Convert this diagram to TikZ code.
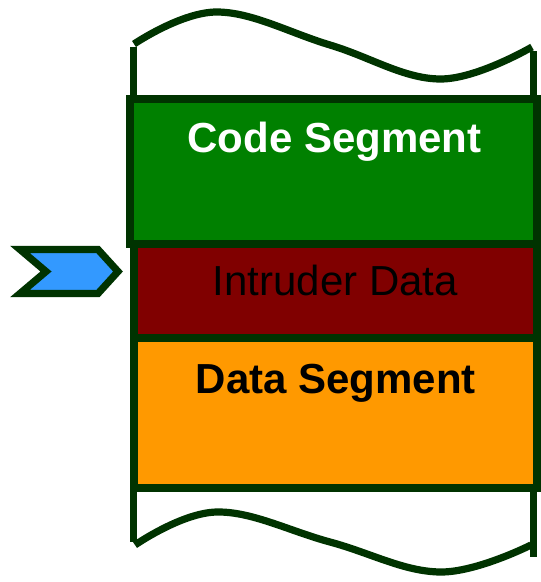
\documentclass[tikz,border=0pt]{standalone}
\usepackage{fontspec}
\setmainfont{Liberation Sans}
\definecolor{edgegreen}{HTML}{003300}
\definecolor{codefill}{HTML}{008000}
\definecolor{intrfill}{HTML}{800000}
\definecolor{datafill}{HTML}{FF9900}
\definecolor{pointerfill}{HTML}{3399FF}
\begin{document}
\begin{tikzpicture}[x=0.75pt,y=-0.75pt,
  segbox/.style={draw=edgegreen,line width=6pt,line join=miter},
  rail/.style={draw=edgegreen,line width=5.4pt,line cap=butt},
  wave/.style={draw=edgegreen,line width=5.4pt,line cap=butt},
  seglabel/.style={inner sep=0pt,anchor=base,font=\fontsize{31.5}{36}\selectfont}]
\useasboundingbox (0,0) rectangle (541,582);

% side rails of the memory column
\draw[rail] (133.5,47) -- (133.5,99);
\draw[rail] (533.5,51) -- (533.5,99);
\draw[rail] (133.5,488) -- (133.5,542);
\draw[rail] (533.5,488) -- (533.5,557);

% torn edges above and below
\draw[wave] plot[smooth,tension=0.65] coordinates
  {(134,44) (217,12) (330,45) (440,79) (532,47)};
\draw[wave] plot[smooth,tension=0.65] coordinates
  {(135,545) (217,512) (330,542) (440,572) (531,545)};

% segments
\draw[segbox,fill=datafill] (133.5,338) rectangle (537,488);
\draw[segbox,fill=intrfill] (133.5,243.5) rectangle (537,338);
\draw[segbox,fill=codefill] (130,99) rectangle (537,243.5);

\node[seglabel,text=white,font=\fontsize{31.5}{36}\selectfont\bfseries] (code) at (334.5,152) {Code Segment};
\node[seglabel,text=black] (intr) at (335.5,295) {Intruder Data};
\node[seglabel,text=black,font=\fontsize{31.5}{36}\selectfont\bfseries] (data) at (336,393) {Data Segment};

% pointer marking the injected data
\draw[draw=edgegreen,line width=5.4pt,line join=miter,fill=pointerfill]
  (20,249.5) -- (98,249.5) -- (118,271.5) -- (98,293.5) -- (20,293.5) -- (46,271.5) -- cycle;
\end{tikzpicture}
\end{document}
